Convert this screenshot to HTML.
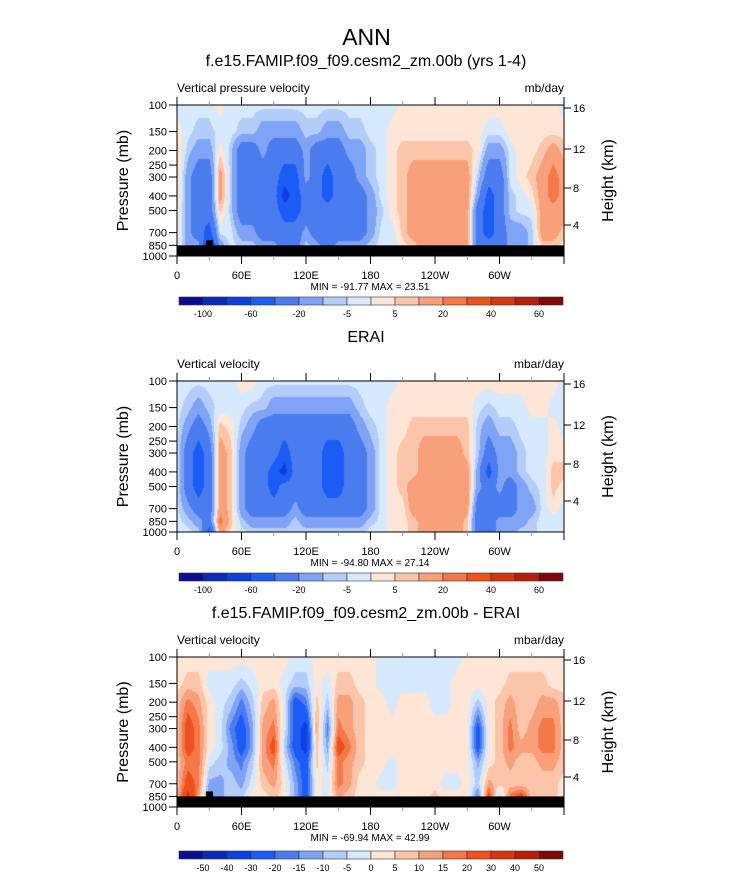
<!DOCTYPE html>
<html><head><meta charset="utf-8">
<style>
body{margin:0;background:#fff;width:733px;height:872px;overflow:hidden;font-family:"Liberation Sans",sans-serif;}
#root{position:relative;width:733px;height:872px;}
.t{position:absolute;white-space:nowrap;color:#000;}
canvas{position:absolute;}
svg{position:absolute;left:0;top:0;}
</style></head><body>
<div id="root">
<div class="t" style="left:0;width:733px;text-align:center;top:24px;font-size:23px;">ANN</div>
<canvas id="c0" width="387" height="151" style="left:177px;top:105px"></canvas>
<canvas id="c1" width="387" height="151" style="left:177px;top:381px"></canvas>
<canvas id="c2" width="387" height="150" style="left:177px;top:657px"></canvas>
<svg id="ov" width="733" height="872"></svg>
</div>
<script>
const lons=[0,10,20,30,40,50,60,70,80,90,100,110,120,130,140,150,160,170,180,190,200,210,220,230,240,250,260,270,280,290,300,310,320,330,340,350,360];
const plevs=[100,150,200,300,400,500,700,850,1000];
const levelsA=[-100,-80,-60,-40,-20,-10,-5,0,5,10,20,30,40,50,60];
const levelsD=[-50,-40,-30,-20,-15,-10,-5,0,5,10,15,20,30,40,50];
const labelsA=["-100","-60","-20","-5","5","20","40","60"];
const labelsD=["-50","-40","-30","-20","-15","-10","-5","0","5","10","15","20","30","40","50"];
const colors=["#0a0f90","#0a2ab8","#0d40e0","#1a5cf5","#4a7cf0","#7fa4f5","#b3ccfa","#d6e9fe","#fde6d6","#fcc5aa","#f8a07a","#f57848","#f04f1e","#d93511","#b81d0a","#800808"];
const model=[
[-3,3,7,7,7,3,3,3,3],[-3,-3,-7,-15,-15,-15,-15,-15,-15],[-3,-7,-15,-30,-30,-30,-30,-15,-15],[-3,-7,-15,-30,-30,-30,-50,-70,-70],
[3,-3,3,15,15,7,-3,-15,-15],[-3,-3,-7,-7,-7,-7,-3,-3,-3],[-3,-7,-30,-30,-30,-30,-15,-7,-7],[-3,-7,-30,-30,-30,-30,-15,-7,-7],
[-3,-15,-15,-30,-30,-30,-30,-15,-15],[-3,-15,-30,-30,-30,-30,-30,-15,-15],[-3,-15,-30,-50,-70,-50,-30,-30,-30],[-3,-15,-30,-50,-50,-50,-30,-30,-30],
[-3,-7,-15,-15,-30,-30,-15,-7,-7],[-3,-7,-30,-30,-30,-30,-30,-15,-15],[-3,-15,-30,-50,-50,-30,-30,-30,-30],[-3,-15,-30,-30,-30,-30,-30,-15,-15],
[-3,-7,-15,-30,-30,-30,-30,-15,-15],[-3,-7,-15,-15,-30,-30,-30,-15,-15],[-3,-3,-7,-7,-15,-15,-15,-7,-7],[-3,-3,-3,-3,-3,-7,-3,-3,-3],
[-3,3,3,3,3,3,-3,-3,-3],[3,3,7,7,7,7,7,3,3],[3,3,7,15,15,15,15,7,7],[3,3,7,15,15,15,15,15,15],
[3,3,7,15,15,15,15,15,15],[3,3,7,15,15,15,15,15,15],[3,3,7,15,15,15,15,15,15],[3,3,7,15,15,15,15,15,15],
[3,3,3,-7,-15,-30,-30,-30,-30],[3,-3,-15,-30,-50,-50,-50,-30,-30],[3,-3,-15,-30,-30,-30,-30,-30,-30],[3,3,-3,-3,-7,-7,-15,-15,-15],
[3,3,3,3,-3,-3,-15,-15,-15],[3,3,3,7,3,-3,-7,-7,-7],[3,3,7,15,15,15,15,7,7],[3,3,15,25,25,15,15,7,7],[-3,3,7,15,15,15,7,3,3]];
const erai=[
[-3,-3,-3,-3,-3,-3,-3,-3,-3],[-3,-7,-15,-30,-30,-30,-15,-7,-3],[-3,-15,-30,-50,-50,-50,-30,-15,-7],[-3,-7,-15,-30,-30,-30,-30,-30,-50],
[-3,-3,7,15,15,15,15,25,15],[-3,-3,3,7,7,7,7,7,3],[3,-3,-7,-15,-15,-15,-15,-7,-3],[3,-7,-15,-30,-30,-30,-30,-15,-7],
[-3,-7,-30,-30,-30,-30,-30,-15,-7],[-3,-15,-30,-30,-50,-50,-30,-15,-7],[-3,-15,-30,-50,-70,-30,-30,-15,-7],[-3,-15,-30,-30,-30,-30,-15,-7,-7],
[-3,-15,-30,-30,-30,-30,-30,-15,-7],[-3,-15,-30,-30,-30,-30,-30,-15,-7],[-3,-15,-30,-50,-50,-50,-30,-15,-7],[-3,-15,-30,-50,-50,-50,-30,-15,-7],
[-3,-15,-30,-30,-30,-30,-30,-15,-7],[-3,-7,-15,-30,-30,-30,-30,-15,-7],[-3,-3,-7,-15,-15,-15,-15,-7,-3],[-3,-3,-3,-3,-3,-3,-3,-3,-3],
[-3,3,3,3,3,3,3,3,3],[3,3,3,7,7,7,3,3,3],[3,3,7,7,7,15,15,7,7],[3,3,7,15,15,15,15,15,15],
[3,3,7,15,15,15,15,15,15],[3,3,7,15,15,15,15,15,15],[3,3,7,15,15,15,15,15,15],[3,3,7,7,15,15,15,7,7],
[3,-3,-7,-7,-15,-15,-30,-30,-30],[3,-7,-15,-30,-50,-30,-30,-30,-30],[3,-3,-7,-15,-15,-15,-30,-15,-15],[3,-3,-7,-15,-15,-30,-30,-15,-15],
[3,-3,-3,-7,-7,-15,-15,-15,-7],[3,3,-3,-3,-3,-7,-15,-7,-7],[3,3,-3,-3,-3,-3,-3,-3,-3],[3,-3,3,3,7,7,3,-3,-3],[-3,-3,-3,3,7,3,-3,-3,-3]];
const diff=[
[2.5,2.5,7,7,7,7,7,7,7],[2.5,7,17,25,25,17,25,35,35],[2.5,7,12,17,17,17,17,12,12],[2.5,-2.5,2.5,2.5,2.5,-2.5,-12,-17,-17],
[2.5,-2.5,-2.5,-2.5,-2.5,-7,-12,-12,-12],[2.5,-2.5,-7,-17,-12,-12,-7,-7,-7],[2.5,-7,-17,-25,-25,-17,-12,-7,-7],[2.5,-2.5,-7,-12,-12,-7,-2.5,2.5,2.5],
[2.5,2.5,7,12,12,12,7,2.5,2.5],[2.5,2.5,12,17,25,17,12,7,7],[2.5,-2.5,-2.5,-2.5,-7,-2.5,2.5,2.5,2.5],[-2.5,-7,-25,-25,-25,-17,-12,-12,-12],
[-2.5,-7,-17,-35,-35,-25,-25,-25,-25],[2.5,2.5,7,12,7,7,2.5,2.5,2.5],[2.5,-2.5,-7,-17,-12,-7,-2.5,-2.5,-2.5],[2.5,7,12,17,25,17,17,12,12],
[2.5,7,12,12,17,12,12,7,7],[2.5,2.5,7,7,7,7,2.5,2.5,2.5],[2.5,2.5,2.5,2.5,2.5,2.5,2.5,2.5,2.5],[-2.5,-2.5,2.5,2.5,2.5,2.5,-2.5,2.5,2.5],
[-2.5,-2.5,-2.5,2.5,2.5,-2.5,-2.5,2.5,2.5],[-2.5,-2.5,2.5,2.5,2.5,2.5,2.5,2.5,2.5],[-2.5,-2.5,2.5,2.5,2.5,2.5,2.5,2.5,2.5],[-2.5,-2.5,2.5,2.5,2.5,2.5,2.5,2.5,2.5],
[-2.5,-2.5,-2.5,2.5,2.5,2.5,2.5,7,7],[-2.5,-2.5,-2.5,2.5,2.5,2.5,-2.5,2.5,2.5],[-2.5,2.5,2.5,2.5,2.5,2.5,-2.5,2.5,2.5],[2.5,2.5,2.5,2.5,2.5,2.5,2.5,2.5,2.5],
[2.5,2.5,-7,-25,-25,-12,-7,-17,-17],[2.5,2.5,2.5,2.5,2.5,2.5,12,25,25],[2.5,2.5,7,7,7,7,7,-7,-7],[2.5,7,12,17,17,12,7,17,17],
[2.5,7,7,7,12,7,7,25,25],[2.5,7,7,12,12,7,7,7,7],[2.5,7,12,17,17,12,7,7,7],[2.5,2.5,12,17,17,12,7,7,7],[2.5,2.5,7,7,7,7,2.5,2.5,2.5]];
const xTicks=[0,60,120,180,240,300];
const xTickLabels=["0","60E","120E","180","120W","60W"];
const pTicks=[100,150,200,250,300,400,500,700,850,1000];
const hTicks=[16,12,8,4];

const NS="http://www.w3.org/2000/svg";
const ov=document.getElementById('ov');
function mk(tag,attrs,name){const e=document.createElementNS(NS,tag);for(const k in attrs)e.setAttribute(k,attrs[k]);
 
 
 ov.appendChild(e);return e;}
function txt(x,y,s,size,anchor,name,rot){const e=mk('text',{x:x,y:y,'font-size':size,'text-anchor':anchor||'middle','font-family':'Liberation Sans, sans-serif',fill:'#000'},name);
 if(rot)e.setAttribute('transform','rotate(-90 '+x+' '+y+')');e.textContent=s;return e;}

const panels=[
 {cid:'c0',top:105,h:151,data:model,levels:levelsA,land:true,title:"f.e15.FAMIP.f09_f09.cesm2_zm.00b (yrs 1-4)",left:"Vertical pressure velocity",right:"mb/day",mm:"MIN = -91.77  MAX =  23.51",cb:297,labels:labelsA,labIdx:[1,3,5,7,9,11,13,15],hk:[108,149,188,225]},
 {cid:'c1',top:381,h:151,data:erai,levels:levelsA,land:false,title:"ERAI",left:"Vertical velocity",right:"mbar/day",mm:"MIN = -94.80  MAX =  27.14",cb:573,labels:labelsA,labIdx:[1,3,5,7,9,11,13,15],hk:[384,425,464,501]},
 {cid:'c2',top:657,h:150,data:diff,levels:levelsD,land:true,title:"f.e15.FAMIP.f09_f09.cesm2_zm.00b - ERAI",left:"Vertical velocity",right:"mbar/day",mm:"MIN = -69.94  MAX =  42.99",cb:851,labels:labelsD,labIdx:[1,2,3,4,5,6,7,8,9,10,11,12,13,14,15],hk:[660,701,740,777]}
];
const X0=177,W=387;
function xs(lon){return X0+lon*W/360;}
function hex(c){return [parseInt(c.substr(1,2),16),parseInt(c.substr(3,2),16),parseInt(c.substr(5,2),16)];}
const rgb=colors.map(hex);
const lp=plevs.map(p=>Math.log10(p));
panels.forEach((P,pi)=>{
 const ys=p=>P.top+Math.log10(p/100)*P.h;
 const cv=document.getElementById(P.cid),ctx=cv.getContext('2d');
 const img=ctx.createImageData(cv.width,cv.height);
 for(let py=0;py<cv.height;py++){
  const l=2+(py+0.5)/P.h; let j=0;while(j<lp.length-2&&l>lp[j+1])j++;
  let fy=(l-lp[j])/(lp[j+1]-lp[j]);fy=Math.max(0,Math.min(1,fy));
  for(let px=0;px<cv.width;px++){
   const lon=(px+0.5)*360/W;let i=Math.min(lons.length-2,Math.floor(lon/10));const fx=(lon-lons[i])/10;
   const d=P.data;
   const v=(d[i][j]*(1-fx)+d[i+1][j]*fx)*(1-fy)+(d[i][j+1]*(1-fx)+d[i+1][j+1]*fx)*fy;
   let k=0;while(k<P.levels.length&&v>=P.levels[k])k++;
   const c=rgb[k],o=(py*cv.width+px)*4;img.data[o]=c[0];img.data[o+1]=c[1];img.data[o+2]=c[2];img.data[o+3]=255;}
 }
 ctx.putImageData(img,0,0);
 const bot=P.top+P.h;
 if(P.land){
  mk('rect',{x:X0,y:ys(850),width:W,height:bot-ys(850),fill:'#000'},'land-mask');
  mk('rect',{x:xs(27),y:ys(850)-5,width:7,height:6,fill:'#000'},'land-bump');
 }
 mk('rect',{x:X0,y:P.top,width:W,height:P.h,fill:'none',stroke:'#000','stroke-width':1},'plot-frame');
 txt(366,P.top-39,P.title,16,'middle','panel-title');
 txt(X0,P.top-13,P.left,12,'start','left-subtitle');
 txt(X0+W,P.top-13,P.right,12,'end','units-label');
 pTicks.forEach(p=>{const y=ys(p);mk('line',{x1:X0-8,x2:X0,y1:y,y2:y,stroke:'#000'},'y-tick');txt(X0-10,y+4,String(p),11,'end','y-tick-label');});
 for(let lon=0;lon<=360;lon+=30){const x=xs(lon),L=lon%60==0?8:4;
  mk('line',{x1:x,x2:x,y1:bot,y2:bot+L,stroke:lon%60?'#999':'#000'},'x-tick');
  mk('line',{x1:x,x2:x,y1:P.top,y2:P.top-L,stroke:lon%60?'#999':'#000'},'x-tick-top');}
 xTicks.forEach((lon,i)=>txt(xs(lon),bot+23,xTickLabels[i],11,'middle','x-tick-label'));
 hTicks.forEach((h,i)=>{const y=P.hk[i];mk('line',{x1:X0+W,x2:X0+W+7,y1:y,y2:y,stroke:'#000'},'height-tick');txt(X0+W+9,y+4,String(h),11,'start','height-tick-label');});
 txt(128,P.top+P.h/2,'Pressure (mb)',16,'middle','y-axis-title',true);
 txt(613,P.top+P.h/2,'Height (km)',16,'middle','right-axis-title',true);
 txt(370,bot+34,P.mm,10,'middle','min-max-label');
 for(let k=0;k<16;k++){mk('rect',{x:179+k*24,y:P.cb,width:24,height:8,fill:colors[k],stroke:'#333','stroke-width':0.6},'colorbar-box');}
 P.labIdx.forEach((k,i)=>txt(179+k*24,P.cb+20,P.labels[i],9,'middle','colorbar-label'));
});
</script>
</body></html>
